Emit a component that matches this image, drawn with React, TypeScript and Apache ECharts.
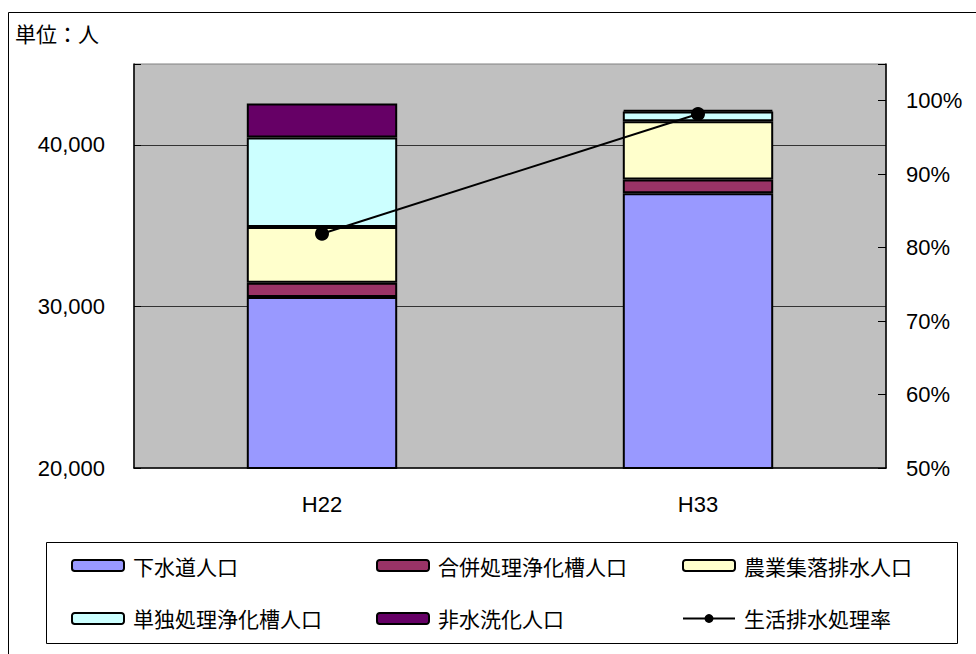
import React, { useEffect, useRef } from "react";
import * as echarts from "echarts";

const categories = ["H22", "H33"];
const sewerPop = [30580, 37000];
const combinedPop = [880, 860];
const agriPop = [3460, 3600];
const singlePop = [5530, 600];
const nonFlushPop = [2100, 100];
const treatRate = [81.9, 98.2];

const seriesNames = [
  "下水道人口",
  "合併処理浄化槽人口",
  "農業集落排水人口",
  "単独処理浄化槽人口",
  "非水洗化人口",
  "生活排水処理率",
];

const NUM_FONT = "'Liberation Sans', Arial, sans-serif";
const CJK_FONT = "'Noto Sans CJK JP', sans-serif";

export default function App() {
  const ref = useRef<HTMLDivElement>(null);
  useEffect(() => {
    if (!ref.current) return;
    const chart = echarts.init(ref.current, null, { renderer: "svg" });
    const barStyle = (color: string) => ({
      color,
      borderColor: "#000",
      borderWidth: 2,
    });
    const bar = (name: string, data: number[], color: string) => ({
      name,
      type: "bar",
      stack: "pop",
      data,
      barWidth: "40%",
      itemStyle: barStyle(color),
      yAxisIndex: 0,
    });
    const legendBase = {
      orient: "vertical",
      top: 555,
      padding: 0,
      itemGap: 32,
      itemWidth: 52,
      itemHeight: 11,
      selectedMode: false,
      textStyle: {
        fontFamily: CJK_FONT,
        fontSize: 21,
        lineHeight: 20,
        color: "#000",
        padding: [0, 0, 0, 4],
      },
    };
    chart.setOption({
      animation: false,
      backgroundColor: "#fff",
      graphic: [
        {
          type: "rect",
          shape: { x: 8.5, y: 12.5, width: 1000, height: 700 },
          style: { fill: "none", stroke: "#000", lineWidth: 1 },
          silent: true,
        },
        {
          type: "rect",
          shape: { x: 46.5, y: 542.5, width: 911, height: 101 },
          style: { fill: "none", stroke: "#000", lineWidth: 1 },
          silent: true,
        },
        {
          type: "text",
          x: 15,
          y: 33,
          style: {
            text: "単位：人",
            fontFamily: CJK_FONT,
            fontSize: 21,
            fill: "#000",
            verticalAlign: "middle",
          },
        },
      ],
      grid: {
        left: 134,
        top: 64,
        width: 752,
        height: 404,
        show: true,
        backgroundColor: "#C0C0C0",
        borderColor: "#808080",
        borderWidth: 1,
      },
      legend: [
        { ...legendBase, left: 71, data: [seriesNames[0], seriesNames[3]] },
        { ...legendBase, left: 376, data: [seriesNames[1], seriesNames[4]] },
        { ...legendBase, left: 682, data: [seriesNames[2], seriesNames[5]] },
      ],
      xAxis: {
        type: "category",
        data: categories,
        boundaryGap: true,
        axisLine: { lineStyle: { color: "#000", width: 1.5 } },
        axisTick: { inside: true, length: 8, lineStyle: { color: "#000" } },
        axisLabel: {
          margin: 25,
          fontFamily: NUM_FONT,
          fontSize: 22,
          color: "#000",
        },
      },
      yAxis: [
        {
          type: "value",
          min: 20000,
          max: 45000,
          interval: 10000,
          axisLine: { show: true, lineStyle: { color: "#000", width: 1.5 } },
          axisTick: { show: true, inside: true, length: 7, lineStyle: { color: "#000" } },
          splitLine: {
            show: true,
            showMinLine: false,
            showMaxLine: false,
            lineStyle: { color: "#333", width: 1 },
          },
          axisLabel: {
            margin: 29,
            fontFamily: NUM_FONT,
            fontSize: 22,
            color: "#000",
            padding: [6, 0, 0, 0],
            formatter: (v: number) =>
              v > 40000 ? "" : v.toLocaleString("en-US"),
          },
        },
        {
          type: "value",
          min: 50,
          max: 105,
          interval: 10,
          position: "right",
          axisLine: { show: true, lineStyle: { color: "#000", width: 1.5 } },
          axisTick: { show: true, inside: true, length: 8, lineStyle: { color: "#000" } },
          splitLine: { show: false },
          axisLabel: {
            margin: 20,
            fontFamily: NUM_FONT,
            fontSize: 22,
            color: "#000",
            padding: [6, 0, 0, 0],
            formatter: (v: number) => (v > 100 ? "" : v + "%"),
          },
        },
      ],
      series: [
        bar(seriesNames[0], sewerPop, "#9999FF"),
        bar(seriesNames[1], combinedPop, "#993366"),
        bar(seriesNames[2], agriPop, "#FFFFCC"),
        bar(seriesNames[3], singlePop, "#CCFFFF"),
        bar(seriesNames[4], nonFlushPop, "#660066"),
        {
          name: seriesNames[5],
          type: "line",
          yAxisIndex: 1,
          data: treatRate,
          symbol: "circle",
          symbolSize: 14,
          lineStyle: { color: "#000", width: 2 },
          itemStyle: { color: "#000" },
          z: 5,
        },
      ],
    });
    return () => chart.dispose();
  }, []);
  return (
    <div
      ref={ref}
      style={{
        position: "fixed",
        left: 0,
        top: 0,
        width: 976,
        height: 654,
        background: "#fff",
      }}
    />
  );
}
